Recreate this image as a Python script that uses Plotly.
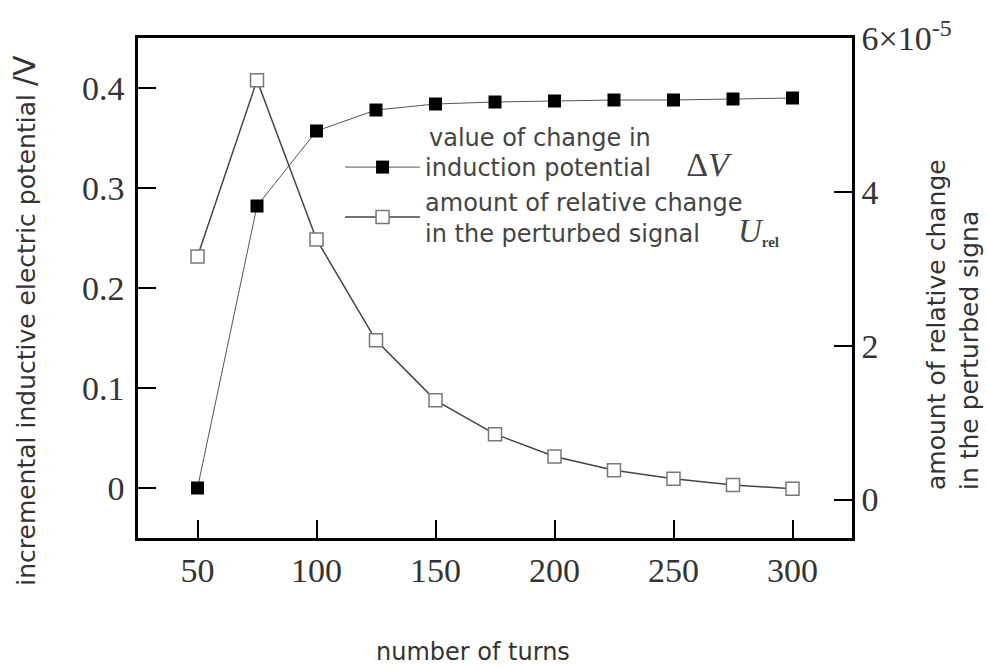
import plotly.graph_objects as go

turns = [50, 75, 100, 125, 150, 175, 200, 225, 250, 275, 300]
delta_v = [0.0, 0.282, 0.357, 0.378, 0.384, 0.386, 0.387, 0.388, 0.388, 0.389, 0.390]
u_rel = [3.16, 5.45, 3.38, 2.07, 1.29, 0.85, 0.56, 0.38, 0.27, 0.19, 0.14]

x_ticks = [50, 100, 150, 200, 250, 300]
y_ticks = [0, 0.1, 0.2, 0.3, 0.4]
y_tick_text = ["0", "0.1", "0.2", "0.3", "0.4"]
y2_ticks = [0, 2, 4, 6]
y2_tick_text = ["0", "2", "4", "6×10<sup>-5</sup>"]

SANS = "DejaVu Sans"
SERIF = "Liberation Serif"
TXT = "#333333"
LEG = "#444444"
NB = "\u00a0"

fig = go.Figure()
fig.add_trace(go.Scatter(
    x=turns, y=delta_v, mode="lines+markers", yaxis="y",
    name="induction potential" + NB * 4 + "\u2009<span style='font-family:Liberation Serif;font-size:34px'>Δ<i>V</i></span>",
    line=dict(color="#555555", width=1),
    marker=dict(symbol="square", size=13, color="black", line=dict(color="black", width=0)),
))
fig.add_trace(go.Scatter(
    x=turns, y=u_rel, mode="lines+markers", yaxis="y2",
    name="amount of relative change<br>in the perturbed signal" + NB * 5 + "<span style='font-family:Liberation Serif;font-size:33px'><i>U</i></span><sub><span style='font-family:Liberation Serif;font-size:15px'><b>rel</b></span></sub>",
    line=dict(color="#444444", width=1.5),
    marker=dict(symbol="square", size=13, color="white", line=dict(color="#777777", width=1.5)),
))

axis_common = dict(
    showgrid=False, zeroline=False, ticks="inside", ticklen=18, tickwidth=2,
    tickcolor="black", linecolor="black", linewidth=2.5, showline=True,
    tickfont=dict(family=SERIF, size=34, color=TXT),
)

fig.update_layout(
    width=987, height=669,
    margin=dict(l=138, r=135, t=38, b=131),
    paper_bgcolor="white", plot_bgcolor="white",
    xaxis=dict(range=[25, 325], tickvals=x_ticks, mirror=True, **axis_common),
    yaxis=dict(range=[-0.05, 0.45], tickvals=y_ticks, ticktext=y_tick_text,
               ticklabelstandoff=4, **axis_common),
    yaxis2=dict(range=[-0.5, 6], tickvals=y2_ticks, ticktext=y2_tick_text,
                overlaying="y", side="right", **axis_common),
    showlegend=True,
    legend=dict(x=0.283, y=0.786, xanchor="left", yanchor="top",
                bgcolor="rgba(0,0,0,0)", itemwidth=75,
                font=dict(family=SANS, size=24, color=LEG)),
    annotations=[
        dict(text="value of change in", xref="paper", yref="paper",
             x=0.405, y=0.8, xanchor="left", yanchor="middle", showarrow=False,
             font=dict(family=SANS, size=24, color=LEG)),
        dict(text="incremental inductive electric potential <span style='font-size:30px'>/V</span>",
             xref="paper", yref="paper",
             x=-0.16, y=0.436, textangle=-90, showarrow=False,
             xanchor="center", yanchor="middle",
             font=dict(family=SANS, size=25, color=TXT)),
        dict(text="amount of relative change<br>in the perturbed signa", xref="paper", yref="paper",
             x=1.1415, y=0.426, textangle=-90, showarrow=False, align="left",
             xanchor="center", yanchor="middle",
             font=dict(family=SANS, size=25, color=TXT)),
        dict(text="number of turns", xref="paper", yref="paper",
             x=0.469, y=-0.228, showarrow=False, xanchor="center", yanchor="middle",
             font=dict(family=SANS, size=24, color=TXT)),
    ],
)

fig.write_html("out.html")
